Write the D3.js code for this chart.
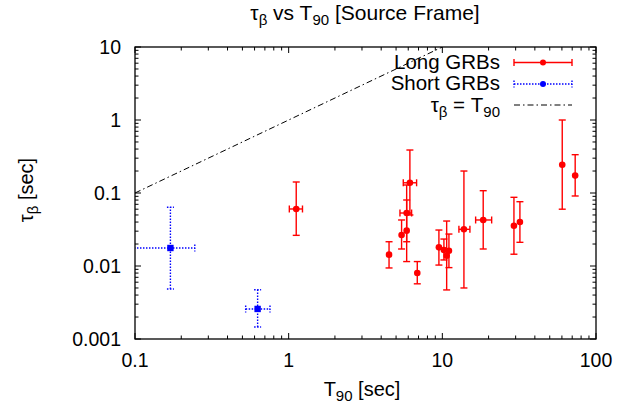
<!DOCTYPE html>
<html>
<head>
<meta charset="utf-8">
<script src="https://cdn.jsdelivr.net/npm/d3@7"></script>
<style>
body { margin: 0; background: #fff; }
text { font-family: "Liberation Sans", Arial, sans-serif; fill: #000; }
</style>
</head>
<body>
<svg id="chart"></svg>
<script>
// Long GRBs: T90 [sec] with low/high, tau_beta [sec] with low/high
var longT90   = [1.12, 4.5, 5.43, 5.86, 5.86, 6.15, 6.87, 9.50, 10.24, 10.67, 11.04, 13.82, 18.45, 29.24, 31.98, 60.3, 73.2];
var longT90Lo = [1.01, 4.5, 5.43, 5.30, 5.86, 5.57, 6.87, 9.50, 10.24, 10.67, 11.04, 12.82, 16.47, 29.24, 31.98, 60.3, 73.2];
var longT90Hi = [1.23, 4.5, 5.43, 6.31, 5.86, 6.80, 6.87, 9.50, 10.24, 10.67, 11.04, 15.12, 20.94, 29.24, 31.98, 60.3, 73.2];
var longTau   = [0.0604, 0.0143, 0.0266, 0.0532, 0.0305, 0.138, 0.0080, 0.0180, 0.0166, 0.0138, 0.0162, 0.0318, 0.0427, 0.0356, 0.0401, 0.244, 0.173];
var longTauLo = [0.0263, 0.0094, 0.0171, 0.0215, 0.0115, 0.050, 0.0057, 0.0103, 0.0121, 0.0047, 0.0095, 0.0050, 0.0171, 0.0145, 0.0211, 0.060, 0.091];
var longTauHi = [0.1415, 0.0215, 0.0427, 0.0802, 0.1287, 0.388, 0.0115, 0.0311, 0.0234, 0.0413, 0.0274, 0.200, 0.1075, 0.0873, 0.076, 1.0, 0.335];

// Short GRBs
var shortT90   = [0.17, 0.628];
var shortT90Lo = [0.09, 0.525];
var shortT90Hi = [0.245, 0.756];
var shortTau   = [0.01765, 0.00258];
var shortTauLo = [0.00484, 0.00146];
var shortTauHi = [0.0637, 0.00473];

var xDomain = [0.1, 100];
var yDomain = [0.001, 10];
var xTickValues = [0.1, 1, 10, 100];
var yTickValues = [0.001, 0.01, 0.1, 1, 10];

var width = 626, height = 404;
var margin = {left: 135, right: 30, top: 47, bottom: 65};

var svg = d3.select("#chart")
    .attr("width", width)
    .attr("height", height);

var xScale = d3.scaleLog().domain(xDomain).range([margin.left, width - margin.right]);
var yScale = d3.scaleLog().domain(yDomain).range([height - margin.bottom, margin.top]);

function toRows(t, tlo, thi, tau, taulo, tauhi) {
    return t.map(function (d, i) {
        return {t: d, tlo: tlo[i], thi: thi[i], tau: tau[i], taulo: taulo[i], tauhi: tauhi[i]};
    });
}
var longData = toRows(longT90, longT90Lo, longT90Hi, longTau, longTauLo, longTauHi);
var shortData = toRows(shortT90, shortT90Lo, shortT90Hi, shortTau, shortTauLo, shortTauHi);

svg.append("defs").append("clipPath").attr("id", "plotClip")
    .append("rect")
    .attr("x", xScale.range()[0])
    .attr("y", yScale.range()[1])
    .attr("width", xScale.range()[1] - xScale.range()[0])
    .attr("height", yScale.range()[0] - yScale.range()[1]);

function addSubText(sel, a, sub, b, sub2, c) {
    sel.append("tspan").text(a);
    sel.append("tspan").attr("dy", 5).style("font-size", "15px").text(sub);
    sel.append("tspan").attr("dy", -5).text(b);
    if (sub2) {
        sel.append("tspan").attr("dy", 5).style("font-size", "15px").text(sub2);
        sel.append("tspan").attr("dy", -5).text(c);
    }
}

// title
var title = svg.append("text")
    .attr("x", 365)
    .attr("y", 20)
    .attr("text-anchor", "middle")
    .style("font-size", "21px");
addSubText(title, "\u03c4", "\u03b2", " vs T", "90", " [Source Frame]");

// axes, ticks inside on all sides
var minorX = [], minorY = [];
[0.1, 1, 10].forEach(function (b) { for (var k = 1; k < 10; k++) minorX.push(b * k); });
[0.001, 0.01, 0.1, 1].forEach(function (b) { for (var k = 1; k < 10; k++) minorY.push(b * k); });
minorX.push(100);
minorY.push(10);

function tickLen(v) {
    var l = Math.log10(v);
    return Math.abs(l - Math.round(l)) < 1e-6 ? 6 : 3.5;
}

var ticks = svg.append("g").attr("stroke", "#000").attr("stroke-width", 1);
minorX.forEach(function (v) {
    var x = xScale(v);
    ticks.append("line").attr("x1", x).attr("x2", x)
        .attr("y1", yScale.range()[0]).attr("y2", yScale.range()[0] - tickLen(v));
    ticks.append("line").attr("x1", x).attr("x2", x)
        .attr("y1", yScale.range()[1]).attr("y2", yScale.range()[1] + tickLen(v));
});
minorY.forEach(function (v) {
    var y = yScale(v);
    ticks.append("line").attr("y1", y).attr("y2", y)
        .attr("x1", xScale.range()[0]).attr("x2", xScale.range()[0] + tickLen(v));
    ticks.append("line").attr("y1", y).attr("y2", y)
        .attr("x1", xScale.range()[1]).attr("x2", xScale.range()[1] - tickLen(v));
});

svg.selectAll(".xlab")
    .data(xTickValues)
    .enter().append("text")
    .attr("class", "xlab")
    .attr("x", function (d) { return xScale(d); })
    .attr("y", yScale.range()[0] + 28)
    .attr("text-anchor", "middle")
    .style("font-size", "19.5px")
    .text(function (d) { return d3.format("~g")(d); });

svg.selectAll(".ylab")
    .data(yTickValues)
    .enter().append("text")
    .attr("class", "ylab")
    .attr("x", xScale.range()[0] - 14)
    .attr("y", function (d) { return yScale(d) + 7; })
    .attr("text-anchor", "end")
    .style("font-size", "19.5px")
    .text(function (d) { return d3.format("~g")(d); });

var xTitle = svg.append("text")
    .attr("x", 362)
    .attr("y", 396)
    .attr("text-anchor", "middle")
    .style("font-size", "20px");
addSubText(xTitle, "T", "90", " [sec]");

var yTitle = svg.append("text")
    .attr("transform", "translate(33," + 190 + ") rotate(-90)")
    .attr("text-anchor", "middle")
    .style("font-size", "20px");
addSubText(yTitle, "\u03c4", "\u03b2", " [sec]");

// plot content
var plot = svg.append("g").attr("clip-path", "url(#plotClip)");

// tau = T90 line
var diag = d3.line()
    .x(function (d) { return xScale(d); })
    .y(function (d) { return yScale(d); });
plot.append("path")
    .attr("d", diag([0.1, 10]))
    .attr("fill", "none")
    .attr("stroke", "#000")
    .attr("stroke-width", 1)
    .attr("stroke-dasharray", "6,3,1.5,3");

function drawErrors(g, data, color, dash) {
    var cap = 3.5;
    var e = g.append("g")
        .attr("stroke", color)
        .attr("stroke-width", 1.4)
        .attr("stroke-dasharray", dash);
    data.forEach(function (d) {
        var x = xScale(d.t), y = yScale(d.tau);
        e.append("line").attr("x1", x).attr("x2", x).attr("y1", yScale(d.taulo)).attr("y2", yScale(d.tauhi));
        e.append("line").attr("x1", x - cap).attr("x2", x + cap).attr("y1", yScale(d.taulo)).attr("y2", yScale(d.taulo));
        e.append("line").attr("x1", x - cap).attr("x2", x + cap).attr("y1", yScale(d.tauhi)).attr("y2", yScale(d.tauhi));
        if (d.thi > d.tlo) {
            e.append("line").attr("x1", xScale(d.tlo)).attr("x2", xScale(d.thi)).attr("y1", y).attr("y2", y);
            e.append("line").attr("x1", xScale(d.tlo)).attr("x2", xScale(d.tlo)).attr("y1", y - cap).attr("y2", y + cap);
            e.append("line").attr("x1", xScale(d.thi)).attr("x2", xScale(d.thi)).attr("y1", y - cap).attr("y2", y + cap);
        }
    });
}

drawErrors(plot, longData, "#ff0000", null);
drawErrors(plot, shortData, "#0000ff", "1.5,1.5");

plot.selectAll(".longPt")
    .data(longData)
    .enter().append("circle")
    .attr("class", "longPt")
    .attr("cx", function (d) { return xScale(d.t); })
    .attr("cy", function (d) { return yScale(d.tau); })
    .attr("r", 3.3)
    .attr("fill", "#ff0000");

plot.selectAll(".shortPt")
    .data(shortData)
    .enter().append("rect")
    .attr("class", "shortPt")
    .attr("x", function (d) { return xScale(d.t) - 3.2; })
    .attr("y", function (d) { return yScale(d.tau) - 3.2; })
    .attr("width", 6.4)
    .attr("height", 6.4)
    .attr("fill", "#0000ff");

// frame
svg.append("rect")
    .attr("x", xScale.range()[0])
    .attr("y", yScale.range()[1])
    .attr("width", xScale.range()[1] - xScale.range()[0])
    .attr("height", yScale.range()[0] - yScale.range()[1])
    .attr("fill", "none")
    .attr("stroke", "#000")
    .attr("stroke-width", 1.3);

// legend
var legend = svg.append("g").attr("class", "legend");
var lx0 = 514, lx1 = 572, ltx = 500;

legend.append("text").attr("x", ltx).attr("y", 69).attr("text-anchor", "end").style("font-size", "20.5px").text("Long GRBs");
legend.append("text").attr("x", ltx).attr("y", 90).attr("text-anchor", "end").style("font-size", "20.5px").text("Short GRBs");
var l3 = legend.append("text").attr("x", ltx).attr("y", 112).attr("text-anchor", "end").style("font-size", "20.5px");
addSubText(l3, "\u03c4", "\u03b2", " = T", "90", "");

function legendBar(y, color, dash) {
    var g = legend.append("g").attr("stroke", color).attr("stroke-width", 1.4).attr("stroke-dasharray", dash);
    g.append("line").attr("x1", lx0).attr("x2", lx1).attr("y1", y).attr("y2", y);
    g.append("line").attr("x1", lx0).attr("x2", lx0).attr("y1", y - 3.5).attr("y2", y + 3.5);
    g.append("line").attr("x1", lx1).attr("x2", lx1).attr("y1", y - 3.5).attr("y2", y + 3.5);
    legend.append("circle").attr("cx", (lx0 + lx1) / 2).attr("cy", y).attr("r", 3).attr("fill", color);
}
legendBar(62.5, "#ff0000", null);
legendBar(84, "#0000ff", "1.5,1.5");
legend.append("line")
    .attr("x1", lx0).attr("x2", lx1).attr("y1", 105).attr("y2", 105)
    .attr("stroke", "#000").attr("stroke-width", 1)
    .attr("stroke-dasharray", "6,3,1.5,3");
</script>
</body>
</html>
